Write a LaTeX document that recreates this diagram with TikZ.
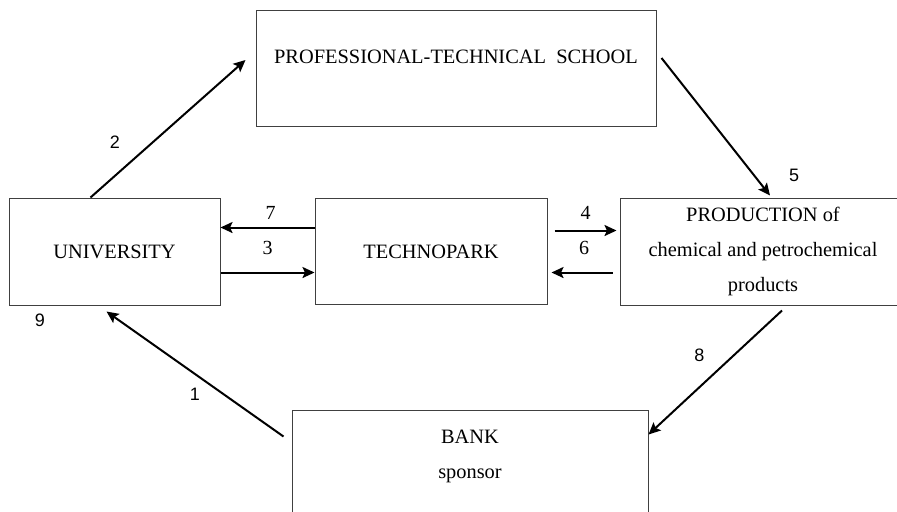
\documentclass[tikz,border=0pt]{standalone}
\usepackage{fontspec}
\setmainfont{Liberation Serif}
\newfontfamily\numsans{Liberation Sans}
\usetikzlibrary{arrows.meta, positioning}

\begin{document}
\begin{tikzpicture}[
                x=0.5pt, y=-0.5pt,
                >={Stealth[length=6pt, width=5.5pt, inset=1.2pt]},
                font=\fontsize{10.2}{17.5}\selectfont,
                box/.style={draw=black!75, line width=0.5pt, rectangle, align=center},
                link/.style={->, line width=1pt},
                num/.style={font=\numsans\fontsize{9}{10}\selectfont},
                snum/.style={font=\fontsize{10}{12}\selectfont}
              ]
              \useasboundingbox (0,0) rectangle (897,511);

              % Units
              \node[box, minimum width=105.5pt, minimum height=53.5pt] (uni) at (114.5,251.5) {UNIVERSITY};
              \node[box, minimum width=116pt, minimum height=53pt, right=47pt of uni] (tech) {TECHNOPARK};
              \node[box, minimum width=143pt, minimum height=53.5pt, right=36pt of tech] (prod)
                   {PRODUCTION of\\chemical and petrochemical\\products};
              \node[box, minimum width=200pt, minimum height=58pt,
                    label={[anchor=center, yshift=-23.5pt]north:PROFESSIONAL-TECHNICAL~~SCHOOL}] (school) at (456,68) {};
              \node[box, minimum width=178pt, minimum height=62pt] (bank) at (470,472) {BANK\\sponsor\\~};
              \node[num] (n9) at (40,320) {9};

              % Links
              \draw[link] ([xshift=-12pt]uni.north) -- node[num, pos=0.3, xshift=-11pt, yshift=7pt] {2}
                          ([xshift=-5pt, yshift=4pt]school.west);
              \draw[link] ([xshift=2.5pt, yshift=5pt]school.east) -- node[num, pos=0.9, xshift=17.5pt, yshift=3pt] {5}
                          ([xshift=3.5pt, yshift=1pt]prod.north);
              \draw[link] ([yshift=12pt]tech.west) -- node[snum, midway, xshift=1.5pt, yshift=7.5pt] {7}
                          ([yshift=12pt]uni.east);
              \draw[link] ([yshift=-10.5pt]uni.east) -- node[snum, midway, yshift=12.5pt] {3}
                          ([yshift=-10.5pt]tech.west);
              \draw[link] ([xshift=3.5pt, yshift=10.5pt]tech.east) -- node[snum, midway, yshift=9pt] {4}
                          ([xshift=-1.5pt, yshift=10.5pt]prod.west);
              \draw[link] ([xshift=-3.5pt, yshift=-10.5pt]prod.west) -- node[snum, midway, xshift=1pt, yshift=12.5pt] {6}
                          ([xshift=2pt, yshift=-10.5pt]tech.east);
              \draw[link] ([xshift=9.5pt, yshift=-2.5pt]prod.south) -- node[num, midway, xshift=-8pt, yshift=8.5pt] {8}
                          ([yshift=-12.5pt]bank.north east);
              \draw[link] ([xshift=-4pt, yshift=-13.5pt]bank.north west) -- node[num, midway, yshift=-10pt] {1}
                          ([xshift=-4pt, yshift=-3pt]uni.south);
\end{tikzpicture}
\end{document}
